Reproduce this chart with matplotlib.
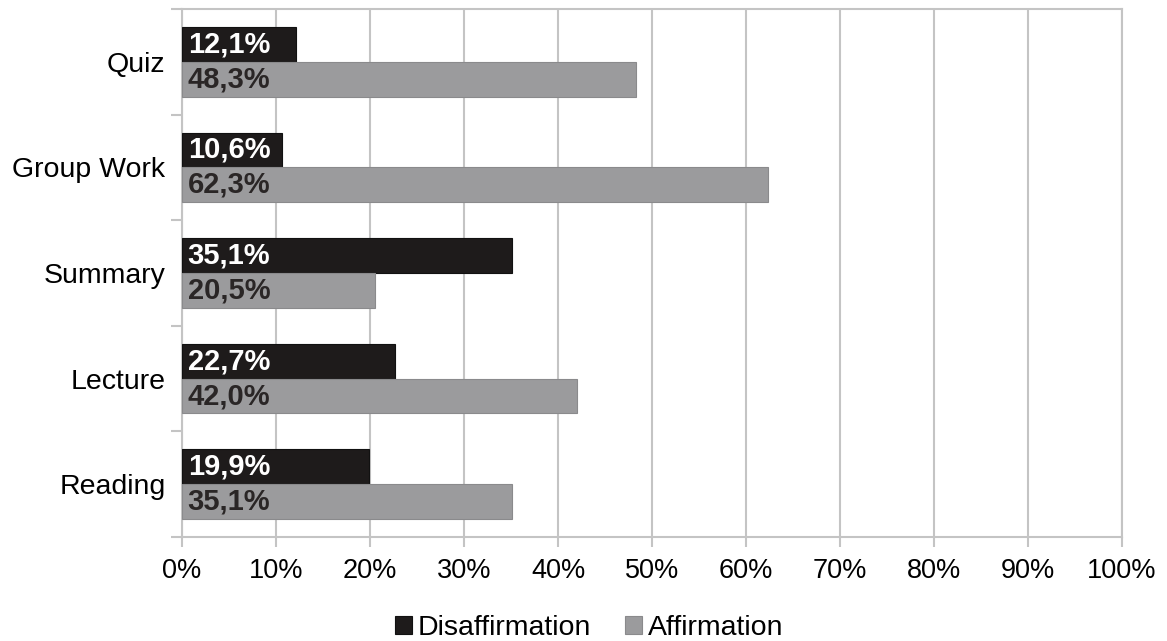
import numpy as np
import matplotlib.pyplot as plt

plt.rcParams['font.family'] = ['Liberation Sans', 'DejaVu Sans']

# dati: percentuali per attività
categorie = ["Quiz", "Group Work", "Summary", "Lecture", "Reading"]
disaff = [12.1, 10.6, 35.1, 22.7, 19.9]
aff = [48.3, 62.3, 20.5, 42.0, 35.1]
xticks = np.arange(0, 101, 10)

nero = '#1e1b1b'
grigio = '#9b9b9d'
linee = '#c4c4c4'

fig = plt.figure(figsize=(11.67, 6.41), dpi=100)
ax = fig.add_axes([0.156, 0.1622, 0.8054, 0.8238])

y = np.arange(len(categorie))[::-1]
h = 0.33
b1 = ax.barh(y + h/2, disaff, height=h, color=nero, edgecolor='#111111', linewidth=0.8,
             label='Disaffirmation', zorder=3)
b2 = ax.barh(y - h/2, aff, height=h, color=grigio, edgecolor='#8a8a8c', linewidth=0.8,
             label='Affirmation', zorder=3)

def fmt(v):
    return f"{v:.1f}%".replace('.', ',')

for yy, v in zip(y, disaff):
    ax.text(0.6, yy + h/2, fmt(v), color='white', fontsize=21, fontweight='bold',
            va='center', ha='left', zorder=4)
for yy, v in zip(y, aff):
    ax.text(0.6, yy - h/2, fmt(v), color='#2a2626', fontsize=21, fontweight='bold',
            va='center', ha='left', zorder=4)

ax.set_xlim(0, 100)
ax.set_ylim(-0.5, len(categorie) - 0.5)
ax.set_xticks(xticks)
ax.set_xticklabels([f"{t}%" for t in xticks], fontsize=19.5)
ax.set_yticks(y)
ax.set_yticklabels(categorie, fontsize=20.5)
ax.set_yticks(np.arange(-0.5, len(categorie)), minor=True)
ax.tick_params(axis='y', which='major', length=0, pad=12)
ax.tick_params(axis='y', which='minor', length=8, width=1.5, color=linee)
ax.tick_params(axis='x', length=7, width=1.5, color=linee, pad=8)
ax.xaxis.grid(True, color=linee, linewidth=1.5, zorder=0)
ax.set_axisbelow(True)
for s in ax.spines.values():
    s.set_color(linee)
    s.set_linewidth(1.5)

fig.legend(handles=[b1, b2], loc='lower center', bbox_to_anchor=(0.505, -0.04), ncol=2,
           frameon=False, fontsize=20.5, handlelength=0.6, handleheight=0.6,
           handletextpad=0.2, columnspacing=1.2)

fig.savefig('out.png', dpi=100)
